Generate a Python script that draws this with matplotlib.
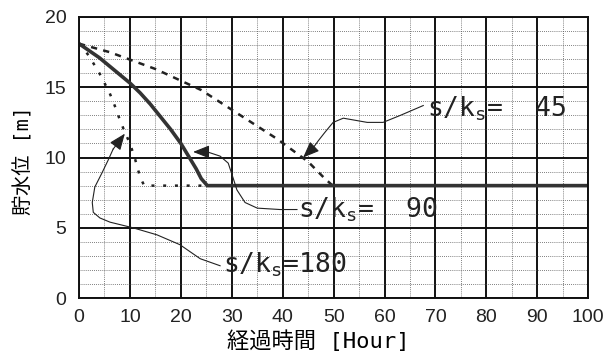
import matplotlib
matplotlib.use('Agg')
import matplotlib.pyplot as plt
from matplotlib.ticker import MultipleLocator

plt.rcParams['font.family'] = ['Liberation Sans', 'Noto Sans CJK JP', 'DejaVu Sans']
plt.rcParams['mathtext.fontset'] = 'custom'
plt.rcParams['mathtext.rm'] = 'DejaVu Sans Mono'
plt.rcParams['mathtext.it'] = 'DejaVu Sans Mono'

# water level curves (hours, m)
t45 = [0, 3, 6, 9, 12, 15, 18, 21, 24, 27, 30, 33, 36, 39, 42, 45, 48, 49.5, 50, 100]
h45 = [18.1, 17.8, 17.5, 17.1, 16.7, 16.3, 15.8, 15.3, 14.8, 14.1, 13.4, 12.7,
       12.0, 11.3, 10.5, 9.7, 8.6, 8.1, 8.0, 8.0]
t90 = [0, 2, 4, 6, 8, 10, 12, 14, 16, 18, 20, 22, 23, 24, 25.2, 100]
h90 = [18.1, 17.6, 17.1, 16.5, 15.9, 15.3, 14.6, 13.8, 12.9, 12.0, 11.0, 9.8,
       9.2, 8.5, 8.0, 8.0]
t180 = [0, 1, 2, 3, 4, 5, 6, 7, 8, 9, 10, 11, 12, 12.8, 100]
h180 = [18.1, 17.7, 17.2, 16.6, 16.0, 15.3, 14.6, 13.7, 12.7, 11.8, 11.0, 9.9,
        8.6, 8.0, 8.0]

# hand drawn leader lines (from label towards arrow head base)
lead45_x = [67.6, 63.1, 59.7, 56.6, 51.9, 49.9, 48.3, 47.0, 46.0]
lead45_y = [13.7, 13.0, 12.5, 12.5, 12.8, 12.5, 11.8, 11.2, 10.7]
lead90_x = [42.8, 39.5, 35.0, 32.6, 31.0, 30.3, 29.3, 27.7, 25.2]
lead90_y = [6.3, 6.3, 6.4, 6.8, 7.7, 8.5, 9.6, 10.1, 10.4]
lead180_x = [27.7, 23.8, 19.8, 15.3, 10.6, 6.1, 4.1, 2.8, 2.6, 3.1, 4.5, 5.7, 6.7]
lead180_y = [2.3, 2.8, 3.8, 4.5, 5.0, 5.4, 5.7, 6.1, 6.8, 7.9, 8.9, 9.8, 10.6]

tip45 = (44.0, 10.0)
tip90 = (22.4, 10.4)
tip180 = (9.0, 11.7)

labels = [r's/k$_\mathrm{s}$=  45', r's/k$_\mathrm{s}$=  90', r's/k$_\mathrm{s}$=180']
label_x = [68.4, 43.0, 28.3]
label_y = [12.9, 5.7, 1.8]

fig = plt.figure(figsize=(6.15, 3.54), dpi=100)
ax = fig.add_axes([0.1285, 0.158, 0.828, 0.794])

ax.plot(t180, h180, color='#222222', lw=1.8, linestyle=(0, (1.2, 3.5)))
ax.plot(t45, h45, color='#222222', lw=1.8, linestyle=(0, (2.5, 2.5)))
ax.plot(t90, h90, color='#333333', lw=2.6, solid_capstyle='butt')

for lx, ly, tip in [(lead45_x, lead45_y, tip45), (lead90_x, lead90_y, tip90),
                    (lead180_x, lead180_y, tip180)]:
    ax.plot(lx, ly, color='#222222', lw=0.8)
    ax.annotate('', xy=tip, xytext=(lx[-1], ly[-1]),
                arrowprops=dict(arrowstyle='-|>,head_length=1.0,head_width=0.4',
                                color='#222222', lw=0.8, shrinkA=0, shrinkB=0))

for txt, x, y in zip(labels, label_x, label_y):
    ax.text(x, y, txt, fontsize=19, color='#222222', va='baseline', ha='left',
            family='DejaVu Sans Mono')

ax.set_xlim(0, 100)
ax.set_ylim(0, 20)
ax.xaxis.set_major_locator(MultipleLocator(10))
ax.xaxis.set_minor_locator(MultipleLocator(5))
ax.yaxis.set_major_locator(MultipleLocator(5))
ax.yaxis.set_minor_locator(MultipleLocator(1))
ax.grid(which='major', color='#111111', lw=1.4)
ax.grid(which='minor', color='#555555', lw=0.6, linestyle=(0, (1, 1.5)))
ax.set_axisbelow(True)
for s in ax.spines.values():
    s.set_color('#111111')
    s.set_linewidth(1.4)
ax.tick_params(which='both', length=0, labelsize=14, colors='#222222')
ax.tick_params(axis='x', pad=8)
ax.tick_params(axis='y', pad=9)

ax.set_xlabel('経過時間 [Hour]', fontsize=16,
              family=['DejaVu Sans Mono', 'Noto Sans CJK JP'])
ax.xaxis.set_label_coords(0.47, -0.115)
ax.set_ylabel('貯水位 [m]', fontsize=14.5,
              family=['DejaVu Sans Mono', 'Noto Sans CJK JP'])
ax.yaxis.set_label_coords(-0.09, 0.49)

fig.savefig('out.png', dpi=100)
